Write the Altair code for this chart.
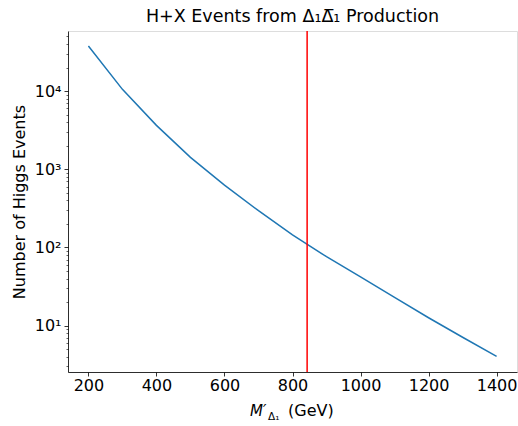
import altair as alt
import pandas as pd

# ---- data ----
mass = [200, 300, 400, 500, 600, 700, 800, 900, 1000, 1100, 1200, 1300, 1400]
events = [37700, 10500, 3640, 1420, 625, 295, 145, 76, 42, 23, 12.6, 7.1, 4.05]
cut_mass = [843]
x_ticks = [200, 400, 600, 800, 1000, 1200, 1400]
major_y = [10, 100, 1000, 10000]
minor_y = [3, 4, 5, 6, 7, 8, 9,
           20, 30, 40, 50, 60, 70, 80, 90,
           200, 300, 400, 500, 600, 700, 800, 900,
           2000, 3000, 4000, 5000, 6000, 7000, 8000, 9000,
           20000, 30000, 40000, 50000]

df = pd.DataFrame({"mass": mass, "events": events})
cut_df = pd.DataFrame({"mass": cut_mass})

FONT = "DejaVu Sans"
xscale = alt.Scale(domain=[140, 1460], nice=False, zero=False)
yscale = alt.Scale(type="log", domain=[2.55, 58600], nice=False)

x_axis = alt.Axis(values=x_ticks, title=None, grid=False, tickSize=4, format="d",
                  labelPadding=1, labelFontSize=16, labelFont=FONT,
                  labelColor="black", tickColor="black", domainColor="black",
                  tickWidth=0.8, domainWidth=0.8, labelFlush=False)

y_major = alt.Axis(values=major_y, title="Number of Higgs Events", grid=False,
                   tickSize=4, labelPadding=3, labelFontSize=16, labelFont=FONT,
                   labelColor="black", tickColor="black", domainColor="black",
                   tickWidth=0.8, domainWidth=0.8, orient="left",
                   titleFont=FONT, titleFontSize=16, titleFontWeight="normal",
                   titleColor="black", titlePadding=7,
                   labelExpr="datum.value == 10 ? '10¹' : datum.value == 100 ? '10²' : datum.value == 1000 ? '10³' : '10⁴'")

y_minor = alt.Axis(values=minor_y, title=None, grid=False, labels=False,
                   tickSize=2, tickColor="black", domain=False,
                   tickWidth=0.6, orient="left")

minor_layer = alt.Chart(df).mark_line(opacity=0).encode(
    x=alt.X("mass:Q", scale=xscale, axis=x_axis),
    y=alt.Y("events:Q", scale=yscale, axis=y_minor),
)

line = alt.Chart(df).mark_line(color="#1f77b4", strokeWidth=1.5).encode(
    x=alt.X("mass:Q", scale=xscale, axis=x_axis),
    y=alt.Y("events:Q", scale=yscale, axis=y_major),
)

rule = alt.Chart(cut_df).mark_rule(color="#ff0000", strokeWidth=1.5).encode(
    x=alt.X("mass:Q", scale=xscale, axis=x_axis),
)

def label(txt, x, y, size, style="normal"):
    return alt.Chart(pd.DataFrame({"t": [txt]})).mark_text(
        font=FONT, fontSize=size, fontStyle=style, align="left",
        baseline="alphabetic", color="black"
    ).encode(text="t:N", x=alt.value(x), y=alt.value(y))

xt1 = label("M′", 182, 385, 15, "italic")
xt2 = label("Δ₁", 200, 389, 10.5)
xt3 = label("(GeV)", 220, 385, 16)

chart = alt.layer(minor_layer, line, rule, xt1, xt2, xt3).resolve_axis(
    y="independent"
).properties(
    width=449,
    height=341,
    title=alt.TitleParams("H+X Events from Δ₁Δ̅₁ Production", fontSize=17.5,
                          font=FONT, fontWeight="normal", color="black",
                          anchor="middle", offset=5),
    autosize=alt.AutoSizeParams(type="none"),
    padding={"left": 68, "top": 31, "right": 1, "bottom": 54},
).configure_view(stroke="black", strokeWidth=0.8).configure(background="white")

chart.save("out.html", embed_options={"renderer": "svg", "actions": False})
